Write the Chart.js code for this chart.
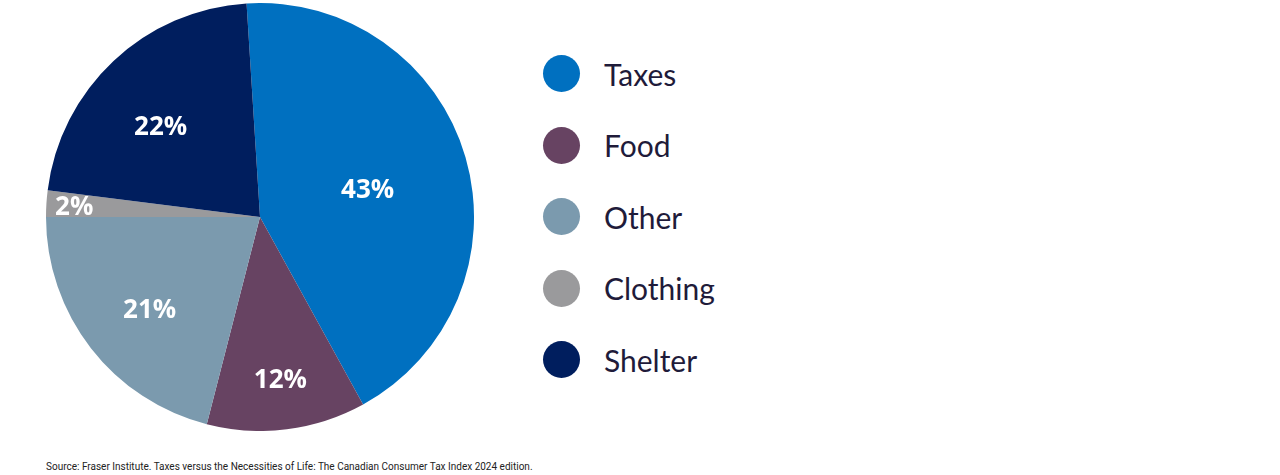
<!DOCTYPE html>
<html>
<head>
<meta charset="utf-8">
<script src="https://cdn.jsdelivr.net/npm/chart.js@4.4.1/dist/chart.umd.min.js"></script>
<style>
  html, body { margin: 0; padding: 0; background: #fff; }
  body { width: 1280px; height: 475px; position: relative; overflow: hidden; }
  #pieWrap { position: absolute; left: 46px; top: 3px; width: 428px; height: 428px; }
  #legend { position: absolute; left: 543px; top: 38px; }
  .leg-item { display: flex; align-items: center; height: 71.5px; }
  .leg-dot { width: 37px; height: 37px; border-radius: 50%; margin-right: 24px; }
  .leg-text { font-family: Lato, "Open Sans", sans-serif; font-size: 30px; color: #1f1b3a; }
  #source { position: absolute; left: 46px; top: 461px; font-family: Roboto, Arial, sans-serif; font-size: 10px; color: #222; }
</style>
</head>
<body>
<div id="pieWrap"><canvas id="pie"></canvas></div>
<div id="legend"></div>
<div id="source">Source: Fraser Institute. Taxes versus the Necessities of Life: The Canadian Consumer Tax Index 2024 edition.</div>
<script>
// categories and shares (%)
const categories = ['Taxes', 'Food', 'Other', 'Clothing', 'Shelter'];
const shares = [43, 12, 21, 2, 22];
const colors = ['#0070C0', '#674362', '#7B9AAE', '#9A9A9C', '#001E5E'];

// label placement per slice: fraction of radius, angle nudge in degrees
const labelDist = [0.52, 0.76, 0.67, 0.87, 0.63];
const labelTurn = [1.6, 0, -1.9, 0, -4.3];

const sliceLabels = {
  id: 'sliceLabels',
  afterDatasetsDraw(chart) {
    const ctx = chart.ctx;
    const arcs = chart.getDatasetMeta(0).data;
    ctx.save();
    ctx.fillStyle = '#fff';
    ctx.font = 'bold 26px "Open Sans", sans-serif';
    ctx.textAlign = 'center';
    ctx.textBaseline = 'middle';
    arcs.forEach((arc, i) => {
      const mid = (arc.startAngle + arc.endAngle) / 2 + labelTurn[i] * Math.PI / 180;
      const r = arc.outerRadius * labelDist[i];
      ctx.fillText(shares[i] + '%', arc.x + Math.cos(mid) * r, arc.y + Math.sin(mid) * r + 2);
    });
    ctx.restore();
  }
};

new Chart(document.getElementById('pie'), {
  type: 'pie',
  data: {
    labels: categories,
    datasets: [{
      data: shares,
      backgroundColor: colors,
      borderWidth: 0
    }]
  },
  options: {
    responsive: true,
    maintainAspectRatio: false,
    animation: false,
    rotation: -3.6,
    layout: { padding: 0 },
    plugins: {
      legend: { display: false },
      tooltip: { enabled: false }
    }
  },
  plugins: [sliceLabels]
});

// legend built from the same arrays
const legend = document.getElementById('legend');
legend.innerHTML = categories.map((c, i) =>
  `<div class="leg-item"><div class="leg-dot" style="background:${colors[i]}"></div><div class="leg-text">${c}</div></div>`
).join('');
</script>
</body>
</html>
